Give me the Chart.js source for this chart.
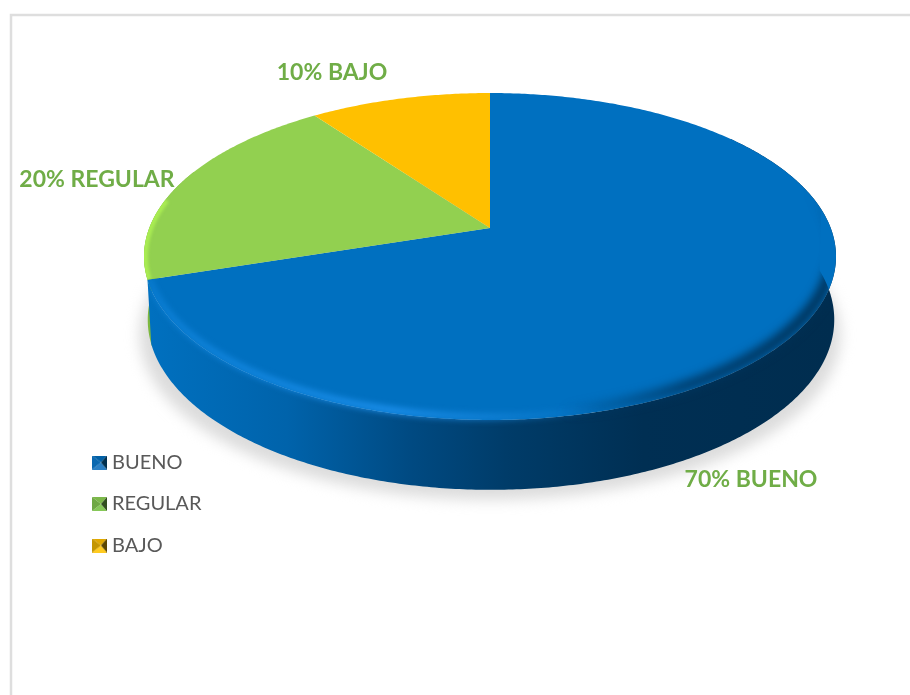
<!DOCTYPE html>
<html>
<head>
<meta charset="utf-8">
<script src="https://cdn.jsdelivr.net/npm/chart.js@4"></script>
<style>
  html, body { margin: 0; padding: 0; background: #fff; }
  canvas { display: block; }
</style>
</head>
<body>
<canvas id="tortaChart" width="910" height="695"></canvas>
<script>
const categorias = ["BUENO", "REGULAR", "BAJO"];
const valores = [70, 20, 10];
const colores = ["#0070c0", "#92d050", "#ffc000"];

// planos de la torta, con perspectiva
const planoArriba = { cx: 490, cy: 228, a: 340.7, b: 158.5 };
const planoAbajo = { cx: 491, cy: 290, a: 338, b: 165 };
const planoBrillo = { cx: 490, cy: 223, a: 338.5, b: 157.5 };
const planoOscuro = { cx: 485, cy: 220, a: 338, b: 157.5 };
const planoSombra = { cx: 490, cy: 306, a: 345, b: 160 };
const persp = 0.1743;

const posEtiquetas = [[751, 480], [97, 180], [332, 73]];

function punto(plano, phi) {
    const u = Math.sin(phi);
    const v = -Math.cos(phi);
    const w = 1 - persp * v;
    return [plano.cx + plano.a * u / w, plano.cy + plano.b * v / w];
}

function trazarBorde(ctx, plano, desde, hasta, mover) {
    const pasos = Math.max(2, Math.ceil(Math.abs(hasta - desde) / 0.01));
    for (let i = 0; i <= pasos; i++) {
        const p = punto(plano, desde + (hasta - desde) * i / pasos);
        if (i === 0 && mover) ctx.moveTo(p[0], p[1]);
        else ctx.lineTo(p[0], p[1]);
    }
}

function rebanada(ctx, desde, hasta) {
    ctx.beginPath();
    ctx.moveTo(planoArriba.cx, planoArriba.cy);
    trazarBorde(ctx, planoArriba, desde, hasta, false);
    ctx.closePath();
}

function costado(ctx, desde, hasta) {
    ctx.beginPath();
    trazarBorde(ctx, planoArriba, desde, hasta, true);
    trazarBorde(ctx, planoAbajo, hasta, desde, false);
    ctx.closePath();
}

// media luna entre el borde y otro plano; arranca con grosor cero en "desde"
function mediaLuna(ctx, plano, desde, hasta, rampa) {
    ctx.beginPath();
    trazarBorde(ctx, planoArriba, desde, hasta, true);
    const pasos = Math.ceil((hasta - desde) / 0.01);
    for (let i = pasos; i >= 0; i--) {
        const phi = desde + (hasta - desde) * i / pasos;
        const t = Math.min(1, (phi - desde) / rampa);
        const p0 = punto(planoArriba, phi);
        const p1 = punto(plano, phi);
        ctx.lineTo(p0[0] + (p1[0] - p0[0]) * t, p0[1] + (p1[1] - p0[1]) * t);
    }
    ctx.closePath();
}

function icono(color, claro, medio, oscuro) {
    const c = document.createElement("canvas");
    c.width = 20;
    c.height = 14;
    const g = c.getContext("2d");
    const x0 = 5, x1 = 20, y1 = 14, mx = 14, my = 7;
    const tri = (a, b, d, e, col) => {
        g.fillStyle = col;
        g.beginPath();
        g.moveTo(a, b);
        g.lineTo(d, e);
        g.lineTo(mx, my);
        g.closePath();
        g.fill();
    };
    tri(x0, 0, x1, 0, color);
    tri(x0, y1, x1, y1, claro);
    tri(x0, 0, x0, y1, medio);
    tri(x1, 0, x1, y1, oscuro);
    return c;
}

const iconos = [
    icono("#0060a6", "#2a7fc4", "#0a68b0", "#00304f"),
    icono("#7cb84a", "#86c858", "#6fa844", "#324f20"),
    icono("#e0a800", "#ffcb20", "#c49600", "#5c4600")
];

const torta3d = {
    id: "torta3d",
    beforeDraw(chart) {
        const ctx = chart.ctx;
        ctx.save();
        ctx.fillStyle = "#fff";
        ctx.fillRect(0, 0, chart.width, chart.height);
        ctx.strokeStyle = "#dedede";
        ctx.lineWidth = 2.5;
        ctx.beginPath();
        ctx.moveTo(11, 700);
        ctx.lineTo(11, 15);
        ctx.lineTo(915, 15);
        ctx.stroke();
        ctx.restore();
    },
    afterLayout(chart) {
        // leyenda dentro del area, abajo a la izquierda
        const l = chart.legend;
        const w = l.width, h = l.height;
        l.left = 92 - 21.5;
        l.right = l.left + w;
        l.top = 452.5 - 21.5;
        l.bottom = l.top + h;
    },
    beforeDatasetDraw(chart) {
        const ctx = chart.ctx;
        const arcos = chart.getDatasetMeta(0).data;
        const rangos = arcos.map(a => [a.startAngle + Math.PI / 2, a.endAngle + Math.PI / 2]);
        const finAzul = rangos[0][1];
        const finVerde = rangos[1][1];

        // sombra
        ctx.save();
        ctx.filter = "blur(7px)";
        ctx.fillStyle = "#dcdcdc";
        ctx.beginPath();
        trazarBorde(ctx, planoSombra, 0, Math.PI * 2, true);
        ctx.closePath();
        ctx.fill();
        ctx.restore();

        // costado verde
        ctx.fillStyle = "#7db83f";
        costado(ctx, finAzul - 0.02, finAzul + 0.7);
        ctx.fill();

        // costado azul
        const gr = ctx.createLinearGradient(150, 0, 835, 0);
        gr.addColorStop(0, "#0070bf");
        gr.addColorStop(0.2, "#0063ab");
        gr.addColorStop(0.38, "#004a82");
        gr.addColorStop(0.52, "#003c69");
        gr.addColorStop(0.72, "#002f53");
        gr.addColorStop(1, "#002d4f");
        ctx.fillStyle = gr;
        costado(ctx, 0.9, finAzul);
        ctx.fill();

        // cara superior
        arcos.forEach((a, i) => {
            ctx.fillStyle = colores[i];
            rebanada(ctx, rangos[i][0], rangos[i][1]);
            ctx.fill();
        });

        // bisel del borde verde
        ctx.save();
        rebanada(ctx, finAzul, finVerde);
        ctx.clip();
        ctx.filter = "blur(1.5px)";
        ctx.strokeStyle = "#a9ec52";
        ctx.lineWidth = 8;
        ctx.beginPath();
        trazarBorde(ctx, planoArriba, finAzul, finAzul + 0.5, true);
        ctx.stroke();
        ctx.restore();

        // bisel del borde azul, recortado a cara + costado para que se funda
        ctx.save();
        ctx.beginPath();
        ctx.moveTo(planoArriba.cx, planoArriba.cy);
        trazarBorde(ctx, planoArriba, 0, 1.45, false);
        trazarBorde(ctx, planoAbajo, 1.45, finAzul, false);
        trazarBorde(ctx, planoArriba, finAzul, finAzul, false);
        ctx.closePath();
        ctx.clip();

        // parte oscura, a la derecha
        const os = ctx.createLinearGradient(150, 0, 836, 0);
        os.addColorStop(0, "rgba(0,60,105,0)");
        os.addColorStop(0.6, "rgba(0,60,105,0)");
        os.addColorStop(0.78, "rgba(0,55,98,0.9)");
        os.addColorStop(1, "rgba(0,47,83,1)");
        ctx.filter = "blur(5px)";
        ctx.fillStyle = os;
        mediaLuna(ctx, planoOscuro, 1.3, finAzul, 0.6);
        ctx.fill();

        // brillo, a la izquierda
        const br = ctx.createLinearGradient(150, 0, 836, 0);
        br.addColorStop(0, "rgba(15,132,220,0.9)");
        br.addColorStop(0.35, "rgba(32,148,242,0.95)");
        br.addColorStop(0.5, "rgba(24,136,224,0.7)");
        br.addColorStop(0.66, "rgba(24,136,224,0)");
        br.addColorStop(1, "rgba(24,136,224,0)");
        ctx.filter = "blur(3px)";
        ctx.fillStyle = br;
        mediaLuna(ctx, planoBrillo, 1.6, finAzul, 0.5);
        ctx.fill();
        ctx.restore();

        return false;
    },
    afterDraw(chart) {
        const ctx = chart.ctx;
        ctx.save();
        ctx.font = "bold 23px Lato";
        ctx.fillStyle = "#70ad47";
        ctx.textAlign = "center";
        ctx.textBaseline = "middle";
        categorias.forEach((c, i) => {
            ctx.fillText(valores[i] + "% " + c, posEtiquetas[i][0], posEtiquetas[i][1]);
        });
        ctx.restore();
    }
};

new Chart(document.getElementById("tortaChart"), {
    type: "pie",
    data: {
        labels: categorias,
        datasets: [{
            data: valores,
            backgroundColor: colores,
            borderWidth: 0
        }]
    },
    options: {
        responsive: false,
        animation: false,
        plugins: {
            tooltip: { enabled: false },
            legend: {
                position: "left",
                align: "start",
                labels: {
                    usePointStyle: true,
                    boxWidth: 10,
                    boxHeight: 14,
                    padding: 21.5,
                    color: "#595959",
                    font: { family: "Lato", size: 20 },
                    generateLabels() {
                        return categorias.map((c, i) => ({
                            text: c,
                            pointStyle: iconos[i],
                            fontColor: "#595959",
                            lineWidth: 0,
                            hidden: false,
                            index: i
                        }));
                    }
                }
            }
        }
    },
    plugins: [torta3d]
});
</script>
</body>
</html>
